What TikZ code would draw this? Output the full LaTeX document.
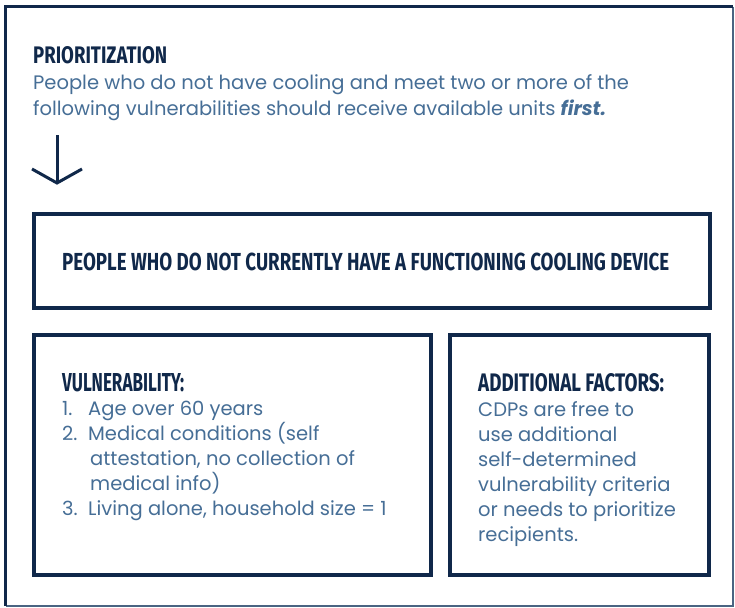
\documentclass[tikz,border=0pt]{standalone}
\usepackage{fontspec}
\usepackage{graphicx}
\setmainfont{Poppins}
\newfontfamily\headfont{Fira Sans}
\definecolor{navy}{HTML}{10284A}
\definecolor{frameblue}{HTML}{4A6482}
\definecolor{txtblue}{HTML}{466E96}
\newcommand{\hdtext}[3]{\resizebox{#1}{#2}{\headfont\bfseries #3}}
\tikzset{
  boxframe/.style={draw=navy, line width=4pt},
  headtxt/.style={anchor=base west, inner sep=0pt, text=navy},
  bodytxt/.style={anchor=base west, inner sep=0pt, text=txtblue, font=\fontsize{19.5}{25}\selectfont},
}
\begin{document}
\begin{tikzpicture}[x=1pt,y=-1pt]
\useasboundingbox (0,0) rectangle (735,607);
\fill[white] (0,0) rectangle (735,607);
% outer frame
\draw[frameblue, line width=2pt] (733,7) -- (733,605.5) -- (5.5,605.5);
\draw[navy, line width=3pt] (5.5,605.5) -- (5.5,7) -- (733,7);
% title
\node[headtxt] (title) at (33,64) {\hdtext{134pt}{17pt}{PRIORITIZATION}};
\node[bodytxt] (intro1) at (33,90) {People who do not have cooling and meet two or more of the};
\node[bodytxt] (intro2) at (33,115) {following vulnerabilities should receive available units \textbf{\textit{first.}}};
% arrow
\coordinate (atop) at (57,135);
\coordinate (atip) at (57,183);
\coordinate (aleft) at (32,169);
\coordinate (aright) at (82,169);
\draw[navy, line width=3pt] (atop) -- (atip);
\draw[navy, line width=3pt, line join=miter] (aleft) -- (atip) -- (aright);
% box 1
\draw[boxframe] (33.5,214) rectangle (709.5,308);
\node[headtxt] (people) at (62,270) {\hdtext{607pt}{17.5pt}{PEOPLE WHO DO NOT CURRENTLY HAVE A FUNCTIONING COOLING DEVICE}};
% box 2
\draw[boxframe] (33.5,335) rectangle (430.5,575);
\node[headtxt] (vuln) at (62,391) {\hdtext{122pt}{18pt}{VULNERABILITY:}};
\node[bodytxt] (n1) at (62,415) {1.};
\node[bodytxt] (v1) at (88,415) {Age over 60 years};
\node[bodytxt] (n2) at (62,440) {2.};
\node[bodytxt] (v2a) at (88,440) {Medical conditions (self};
\node[bodytxt] (v2b) at (90,465) {attestation, no collection of};
\node[bodytxt] (v2c) at (90,490) {medical info)};
\node[bodytxt] (n3) at (62,515) {3.};
\node[bodytxt] (v3) at (88,515) {Living alone, household size = 1};
% box 3
\draw[boxframe] (449.5,335) rectangle (709,575);
\node[headtxt] (addl) at (478,391) {\hdtext{186pt}{18pt}{ADDITIONAL FACTORS:}};
\node[bodytxt] (a1) at (478,416) {CDPs are free to};
\node[bodytxt] (a2) at (478,441) {use additional};
\node[bodytxt] (a3) at (478,466) {self-determined};
\node[bodytxt] (a4) at (478,491) {vulnerability criteria};
\node[bodytxt] (a5) at (478,516) {or needs to prioritize};
\node[bodytxt] (a6) at (478,541) {recipients.};
\end{tikzpicture}
\end{document}
